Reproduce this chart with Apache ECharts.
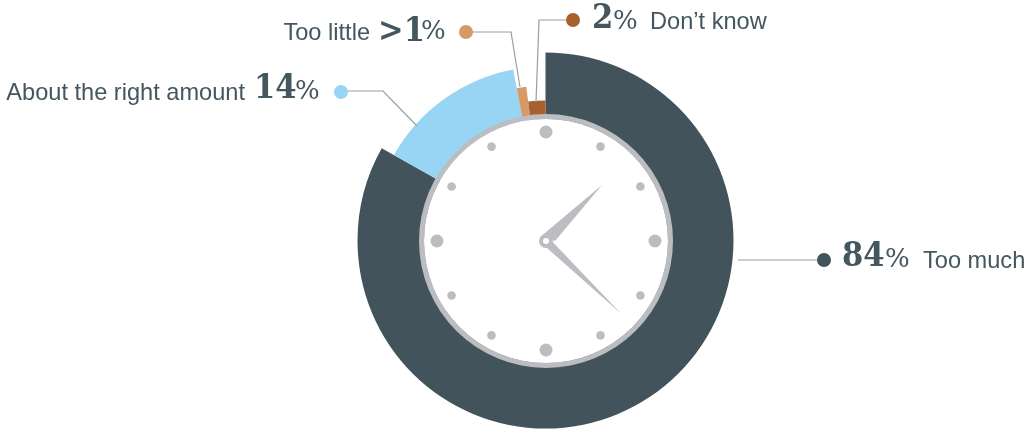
<!DOCTYPE html>
<html>
<head>
<meta charset="utf-8">
<style>html,body{margin:0;padding:0;background:#fff}#c{width:1028px;height:429px}</style>
<script src="https://cdn.jsdelivr.net/npm/echarts@6/dist/echarts.min.js"></script>
</head>
<body>
<div id="c"></div>
<script>
const categories = ['Too much', 'About the right amount', 'Too little', 'Don\u2019t know'];
const values = [84, 14, 1, 2];
const valueLabels = ['84', '14', '>1', '2'];
const colors = ['#42535b', '#98d5f5', '#d59a66', '#a9602f'];
const outerRadii = [188, 174, 155, 140];
const textColor = '#44565e';
const clockGray = '#bcbdc0';
const lineGray = '#9a9ea1';
const center = [545.5, 240.5];
const clock = [546, 241];

const sans = '"Liberation Sans", Arial, sans-serif';

const series = categories.map((_, i) => ({
  type: 'pie',
  silent: true,
  animation: false,
  startAngle: 90,
  clockwise: true,
  center: center,
  radius: [120, outerRadii[i]],
  label: { show: false },
  labelLine: { show: false },
  data: categories.map((name, j) => ({
    name: name,
    value: values[j],
    itemStyle: { color: i === j ? colors[j] : 'rgba(0,0,0,0)' }
  }))
}));
series.push({
  type: 'pie', silent: true, animation: false, center: clock, radius: [122, 127], z: 5,
  label: { show: false }, labelLine: { show: false },
  data: [{ value: 1, name: 'ring', itemStyle: { color: clockGray } }]
});

function text(x, y, t, font, align, sx) {
  return { type: 'text', z: 20, silent: true, x: x, y: y, scaleX: sx || 1,
    style: { text: t, font: font, fill: textColor, align: align || 'left', verticalAlign: 'middle' } };
}
function line(pts) {
  return { type: 'polyline', z: 15, silent: true, shape: { points: pts },
    style: { stroke: lineGray, lineWidth: 1.2, fill: null } };
}
function dot(x, y, r, fill) {
  return { type: 'circle', z: 16, silent: true, shape: { cx: x, cy: y, r: r }, style: { fill: fill } };
}

const g = [];
// clock face
g.push(dot(clock[0], clock[1], 122, '#ffffff'));
for (let h = 0; h < 12; h++) {
  const a = h * Math.PI / 6;
  g.push(dot(clock[0] + 109 * Math.sin(a), clock[1] - 109 * Math.cos(a), h % 3 === 0 ? 6.5 : 4.3, clockGray));
}
g.push({ type: 'polygon', z: 17, silent: true, shape: { points: [[541.7, 235.7], [602, 185], [555, 241]] }, style: { fill: clockGray } });
g.push({ type: 'polygon', z: 17, silent: true, shape: { points: [[551.7, 241], [621.7, 314.3], [546.7, 247.7]] }, style: { fill: clockGray } });
g.push(dot(clock[0], clock[1], 7, clockGray));
g.push(dot(clock[0], clock[1], 3, '#ffffff'));

// leaders
g.push(line([[738, 260], [824, 260]]));
g.push(dot(824, 260, 7, colors[0]));
g.push(line([[341, 91], [383, 91], [417, 126]]));
g.push(dot(341, 92, 7, colors[1]));
g.push(line([[466, 32], [511, 32], [520, 87]]));
g.push(dot(466, 32, 7, colors[2]));
g.push(line([[573, 20], [539, 20], [536, 102]]));
g.push(dot(573, 20, 7, colors[3]));

// labels
const lab = '23.6px ' + sans;
const num = 'bold 34px "DejaVu Serif", serif';
const pct = '26px "DejaVu Serif", serif';
const sx = 0.9;
g.push(text(842, 257, valueLabels[0], num, 'left', sx), text(885, 260, '%', pct), text(923, 261, categories[0], lab));
g.push(text(245, 93, categories[1], lab, 'right'), text(254, 89, valueLabels[1], num, 'left', sx), text(295, 92, '%', pct));
g.push(text(370, 33, categories[2], lab, 'right'), text(378, 32, valueLabels[2], num, 'left', sx), text(421, 32, '%', pct));
g.push(text(592, 19, valueLabels[3], num, 'left', sx), text(613, 22, '%', pct), text(650, 22, categories[3], lab));

const chart = echarts.init(document.getElementById('c'), null, { renderer: 'canvas' });
chart.setOption({ animation: false, backgroundColor: '#fff', series: series, graphic: { elements: g } });
</script>
</body>
</html>
